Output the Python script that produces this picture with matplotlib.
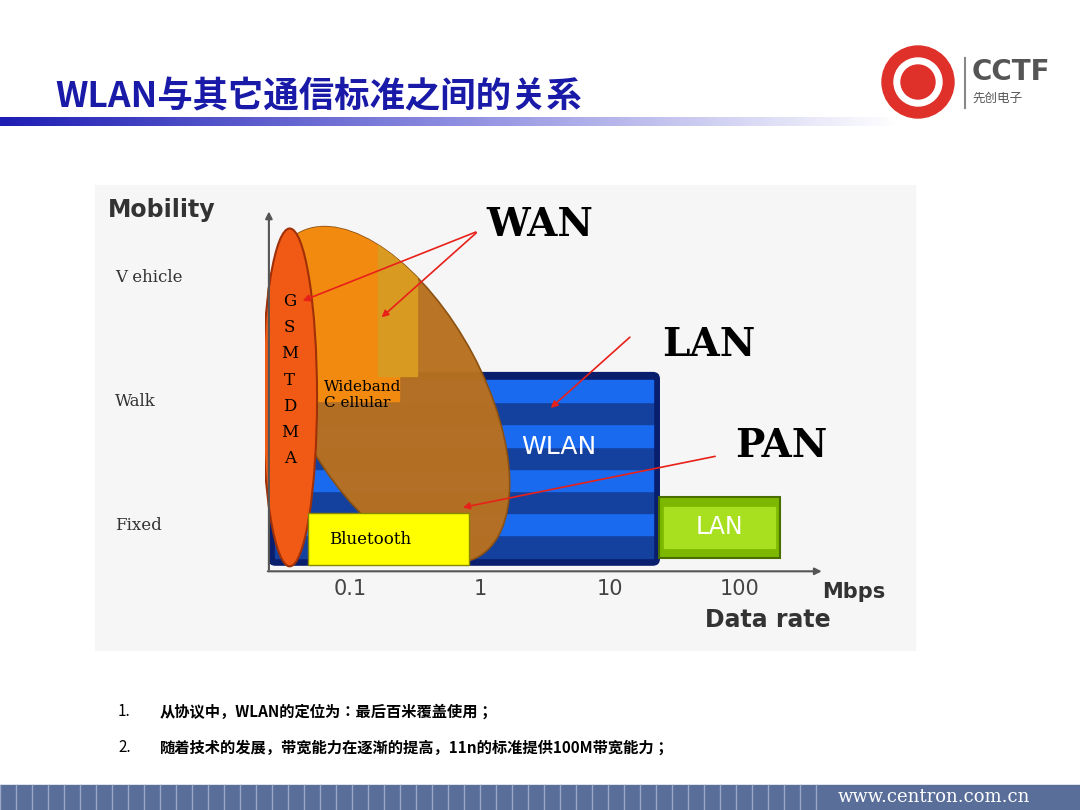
import numpy as np
import matplotlib.pyplot as plt
from matplotlib.patches import Ellipse, Rectangle, FancyBboxPatch, Circle

plt.rcParams['font.family'] = ['Noto Sans CJK SC', 'Noto Sans CJK JP', 'DejaVu Sans']
CJK = ['Noto Sans CJK SC', 'Noto Sans CJK JP', 'Noto Sans CJK TC', 'DejaVu Sans']

# ---- data ----
mobility_levels = ["V ehicle", "Walk", "Fixed"]
mobility_values = [2, 1, 0]
rate_labels = ["0.1", "1", "10", "100"]
rate_values = [0.1, 1, 10, 100]
gsm_letters = ["G", "S", "M", "T", "D", "M", "A"]
bullets = ["从协议中，WLAN的定位为：最后百米覆盖使用；",
           "随着技术的发展，带宽能力在逐渐的提高，11n的标准提供100M带宽能力；"]
# boxes: (log10 rate left, log10 rate right, mobility bottom, mobility top)
wlan_box = (-1.62, 1.38, -0.32, 1.23)
lan_box = (1.38, 2.31, -0.26, 0.23)
bt_box = (-1.32, -0.08, -0.32, 0.10)
# ellipses: (center x, center y, width, height, angle)
wan_ell = (-0.70, 1.05, 2.95, 1.45, -63)
gsm_ell = (-1.46, 1.03, 0.42, 2.72, 0)

fig = plt.figure(figsize=(10.8, 8.1), dpi=100)
bg = fig.add_axes([0, 0, 1, 1])
bg.set_xlim(0, 1080); bg.set_ylim(810, 0); bg.axis('off')

# title + gradient bar
bg.text(55, 97, "WLAN与其它通信标准之间的关系", fontsize=25.5, color='#1A1AA8',
        family=CJK, fontweight='bold', va='center')
grad = np.linspace(0, 1, 256)[None, :]
bg.imshow(grad, extent=(0, 900, 126, 117), cmap=plt.matplotlib.colors.LinearSegmentedColormap.from_list(
    'g', ['#1E1EB4', '#8C8CE0', '#FFFFFF']), aspect='auto', zorder=1)
# logo
bg.add_patch(Circle((918, 82), 36, color='#E0302A', zorder=2))
bg.add_patch(Circle((918, 82), 24, color='white', zorder=3))
bg.add_patch(Circle((918, 82), 17, color='#E0302A', zorder=4))
bg.plot([965, 965], [58, 108], color='#888888', lw=1.5)
bg.text(972, 72, "CCTF", fontsize=20, fontweight='bold', color='#555555', va='center', family='DejaVu Sans')
bg.text(972, 98, "先创电子", fontsize=9, color='#555555', va='center', family=CJK)
# diagram background
bg.add_patch(Rectangle((95, 185), 820, 465, color='#F6F6F6', zorder=0))
# bullets
for i, b in enumerate(bullets):
    y = 712 + i * 36
    bg.text(118, y, f"{i + 1}.", fontsize=11, va='center', family=CJK)
    bg.text(160, y, b, fontsize=11, va='center', fontweight='bold', family=CJK)
# footer
bg.add_patch(Rectangle((0, 785), 1080, 25, color='#5A6E9A', zorder=1))
for x in range(0, 830, 16):
    bg.plot([x, x], [785, 810], color='#9AA8C8', lw=1, zorder=2)
bg.text(1030, 797, "www.centron.com.cn", fontsize=13, color='white', family='DejaVu Serif',
        ha='right', va='center', zorder=3)

# ---- diagram axes ----
ax = fig.add_axes([265 / 1080, 1 - 580 / 810, 635 / 1080, 390 / 810])
ax.set_xlim(-1.65, 3.23)
ax.set_ylim(-0.44, 2.70)
ax.axis('off')

# WLAN striped box
x0, x1, y0, y1 = wlan_box
ax.add_patch(FancyBboxPatch((x0, y0), x1 - x0, y1 - y0, boxstyle='round,pad=0,rounding_size=0.05',
                            fc='#0A1E6E', ec='#0A1E6E', zorder=1))
ys = np.linspace(y0 + 0.06, y1 - 0.06, 9)
for i in range(len(ys) - 1):
    ax.add_patch(Rectangle((x0 + 0.05, ys[i]), x1 - x0 - 0.1, ys[i + 1] - ys[i],
                           color='#1A6AF0' if i % 2 else '#14409E', zorder=1.5))
# LAN box
x0, x1, y0, y1 = lan_box
ax.add_patch(Rectangle((x0, y0), x1 - x0, y1 - y0, fc='#7CB800', ec='#4A6E00', lw=1.5, zorder=1))
ax.add_patch(Rectangle((x0 + 0.04, y0 + 0.08), x1 - x0 - 0.08, y1 - y0 - 0.16, color='#A8E020', zorder=1.2))
ax.text((x0 + x1) / 2, (y0 + y1) / 2, "LAN", color='white', fontsize=17, ha='center', va='center',
        zorder=2, family='DejaVu Sans')

# WAN ellipse
cx, cy, w, h, a = wan_ell
wan = Ellipse((cx, cy), w, h, angle=a, fc='#B8701E', ec='#8A5010', lw=1.2, alpha=0.97, zorder=2)
ax.add_patch(wan)
top = Rectangle((-1.4, 1.0), 0.78, 1.8, color='#F28A10', zorder=2.1)
top.set_clip_path(wan)
ax.add_patch(top)
mid = Rectangle((-0.78, 1.2), 0.3, 1.2, color='#D89A20', zorder=2.1)
mid.set_clip_path(wan)
ax.add_patch(mid)
ax.text(-1.2, 1.05, "Wideband\nC ellular", fontsize=11, family='DejaVu Serif', va='center', zorder=3)

# GSM ellipse
cx, cy, w, h, a = gsm_ell
ax.add_patch(Ellipse((cx, cy), w, h, angle=a, fc='#F05A14', ec='#A03008', lw=1.5, zorder=3))
for i, L in enumerate(gsm_letters):
    ax.text(cx, 1.80 - i * 0.21, L, fontsize=12, family='DejaVu Serif', ha='center', va='center', zorder=4)

# Bluetooth box
x0, x1, y0, y1 = bt_box
ax.add_patch(Rectangle((x0, y0), x1 - x0, y1 - y0, fc='#FFFF00', ec='#888800', zorder=3.5))
ax.text(x0 + 0.16, (y0 + y1) / 2, "Bluetooth", fontsize=12, family='DejaVu Serif', va='center', zorder=4)
ax.text(0.32, 0.63, "WLAN", color='white', fontsize=18, va='center', zorder=4, family='DejaVu Sans')

# axes lines
ax.annotate('', xy=(-1.62, 2.55), xytext=(-1.62, -0.38),
            arrowprops=dict(arrowstyle='-|>', color='#555555', lw=1.5), zorder=5)
ax.annotate('', xy=(2.65, -0.37), xytext=(-1.65, -0.37),
            arrowprops=dict(arrowstyle='-|>', color='#555555', lw=1.5), zorder=5)

# red arrows
arrow = dict(arrowstyle='-|>', color='#E8201A', lw=1.2)
ax.annotate('', xy=(-1.38, 1.80), xytext=(-0.01, 2.37), arrowprops=arrow, zorder=6)
ax.annotate('', xy=(-0.77, 1.66), xytext=(-0.01, 2.37), arrowprops=arrow, zorder=6)
ax.annotate('', xy=(0.53, 0.93), xytext=(1.17, 1.53), arrowprops=arrow, zorder=6)
ax.annotate('', xy=(-0.15, 0.14), xytext=(1.83, 0.56), arrowprops=arrow, zorder=6)

# labels
ax.text(0.05, 2.42, "WAN", fontsize=28, fontweight='bold', family='DejaVu Serif', va='center', zorder=6)
ax.text(1.40, 1.45, "LAN", fontsize=28, fontweight='bold', family='DejaVu Serif', va='center', zorder=6)
ax.text(1.96, 0.64, "PAN", fontsize=28, fontweight='bold', family='DejaVu Serif', va='center', zorder=6)

for v, lab in zip(rate_values, rate_labels):
    bg.text(480 + 130 * np.log10(v), 589, lab, fontsize=15, color='#444444', ha='center', va='center',
            family='DejaVu Sans')
bg.text(822, 592, "Mbps", fontsize=15, fontweight='bold', color='#333333', va='center', family='DejaVu Sans')
bg.text(705, 620, "Data rate", fontsize=17, fontweight='bold', color='#333333', va='center', family='DejaVu Sans')
bg.text(108, 210, "Mobility", fontsize=17, fontweight='bold', color='#333333', va='center', family='DejaVu Sans')
for m, lab in zip(mobility_values, mobility_levels):
    bg.text(115, 525 - 124 * m, lab, fontsize=12, family='DejaVu Serif', color='#333333', va='center')

fig.savefig('out.png', dpi=100)
